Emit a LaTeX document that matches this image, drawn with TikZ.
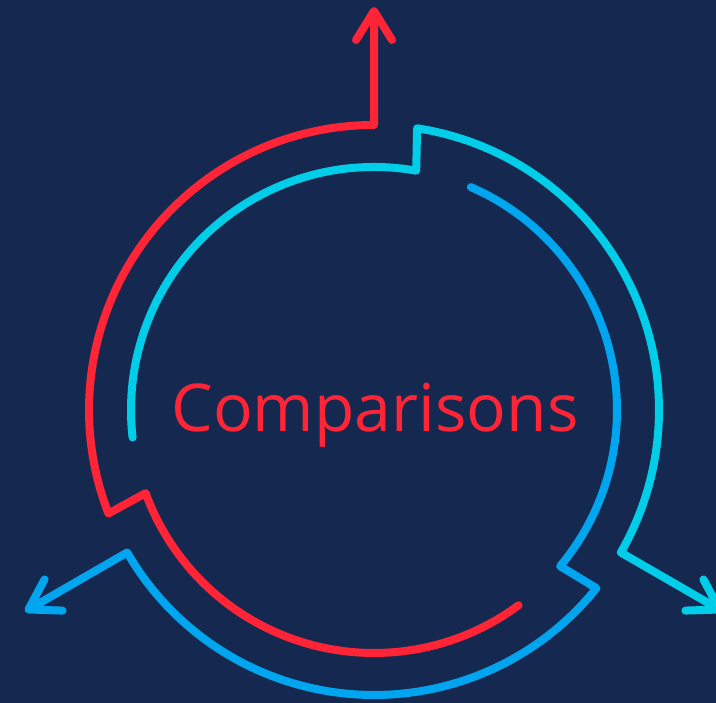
\documentclass[tikz,border=0pt]{standalone}
\usepackage{fontspec}
\setmainfont{Open Sans}
\usetikzlibrary{arrows.meta,calc}
\definecolor{bgnavy}{RGB}{21,41,80}
\definecolor{cred}{RGB}{255,36,54}
\definecolor{ccyan}{RGB}{0,205,232}
\definecolor{cblue}{RGB}{0,165,240}
\tikzset{
  ringline/.style={line width=8pt, line cap=round, line join=round,
    -{Straight Barb[length=29pt,width=36pt,round]}},
}
\begin{document}
\begin{tikzpicture}[x=1pt,y=1pt]
\fill[bgnavy] (0,0) rectangle (716,703);
\useasboundingbox (0,0) rectangle (716,703);
\begin{scope}[shift={(374,293)}]
  \def\Ro{285}
  \def\Ri{243}
  \def\Ls{118}
  \foreach \ph/\col/\nm in {90/cred/R,-30/ccyan/C,210/cblue/B}{
    \pgfmathsetmacro{\aout}{\ph+111.3}
    \pgfmathsetmacro{\ain}{\ph+110}
    \pgfmathsetmacro{\aend}{\ph+216.5}
    \coordinate (s\nm) at (\aend:\Ri);
    \coordinate (t\nm) at ($(\ph:\Ro)+(\ph:\Ls)$);
    \draw[ringline, draw=\col] (s\nm) arc[start angle=\aend, end angle=\ain, radius=\Ri]
      -- (\aout:\Ro) arc[start angle=\aout, end angle=\ph, radius=\Ro] -- (t\nm);
  }
  \node[anchor=base, text=cred, font=\fontsize{66}{70}\selectfont, inner sep=0pt] (title) at (1,-22) {Comparisons};
\end{scope}
\end{tikzpicture}
\end{document}
